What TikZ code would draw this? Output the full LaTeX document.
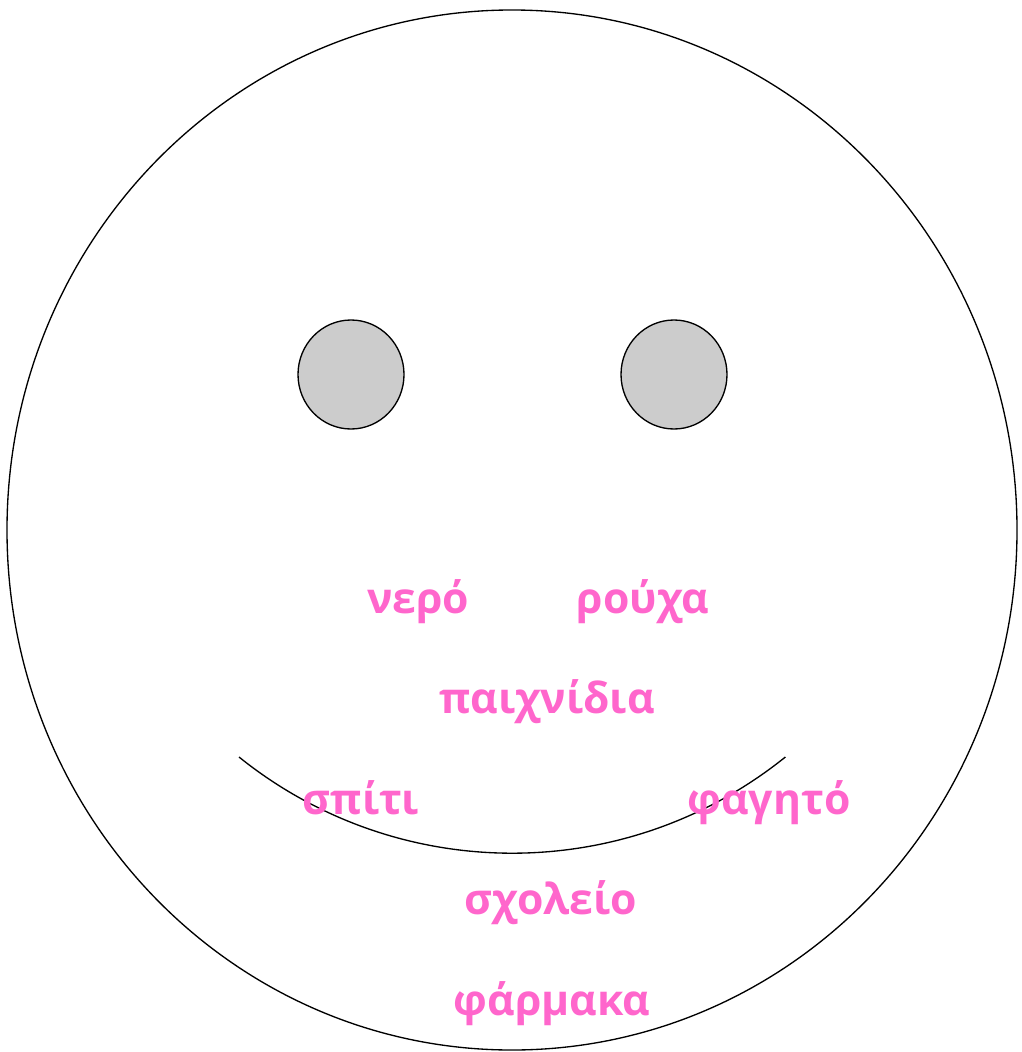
\documentclass[tikz,border=0pt]{standalone}
\usepackage{fontspec}
\setmainfont{Open Sans}
\usepackage{tikz}
\usetikzlibrary{positioning}
\definecolor{wordpink}{HTML}{FF66CC}
\definecolor{eyegray}{HTML}{CCCCCC}

\begin{document}
\begin{tikzpicture}[
    x=0.75pt, y=-0.75pt,
    outline/.style={draw=black, line width=1pt},
    eye/.style={outline, fill=eyegray},
    word/.style={text=wordpink, font=\fontsize{32}{38}\selectfont\bfseries, anchor=base, inner sep=0pt},
  ]
  \useasboundingbox (0,0) rectangle (1021,1052);

  % Face and eyes
  \draw[outline] (512,530) ellipse [x radius=505, y radius=520];
  \draw[eye] (351,374.5) ellipse [x radius=53, y radius=54.5];
  \draw[eye] (674,374.5) ellipse [x radius=53, y radius=54.5];

  % Mouth
  \coordinate (mouth_l) at (239,757);
  \draw[outline] (mouth_l) arc [start angle=128.8, end angle=51.2, radius=436];

  % Words
  \node[word] (nero)      at (418,613)  {νερό};
  \node[word] (rouxa)     at (643,613)  {ρούχα};
  \node[word] (paixnidia) at (547,713)  {παιχνίδια};
  \node[word] (spiti)     at (361,814)  {σπίτι};
  \node[word] (fagito)    at (769,814)  {φαγητό};
  \node[word] (sxoleio)   at (551,914)  {σχολείο};
  \node[word] (farmaka)   at (552,1015) {φάρμακα};
\end{tikzpicture}
\end{document}
